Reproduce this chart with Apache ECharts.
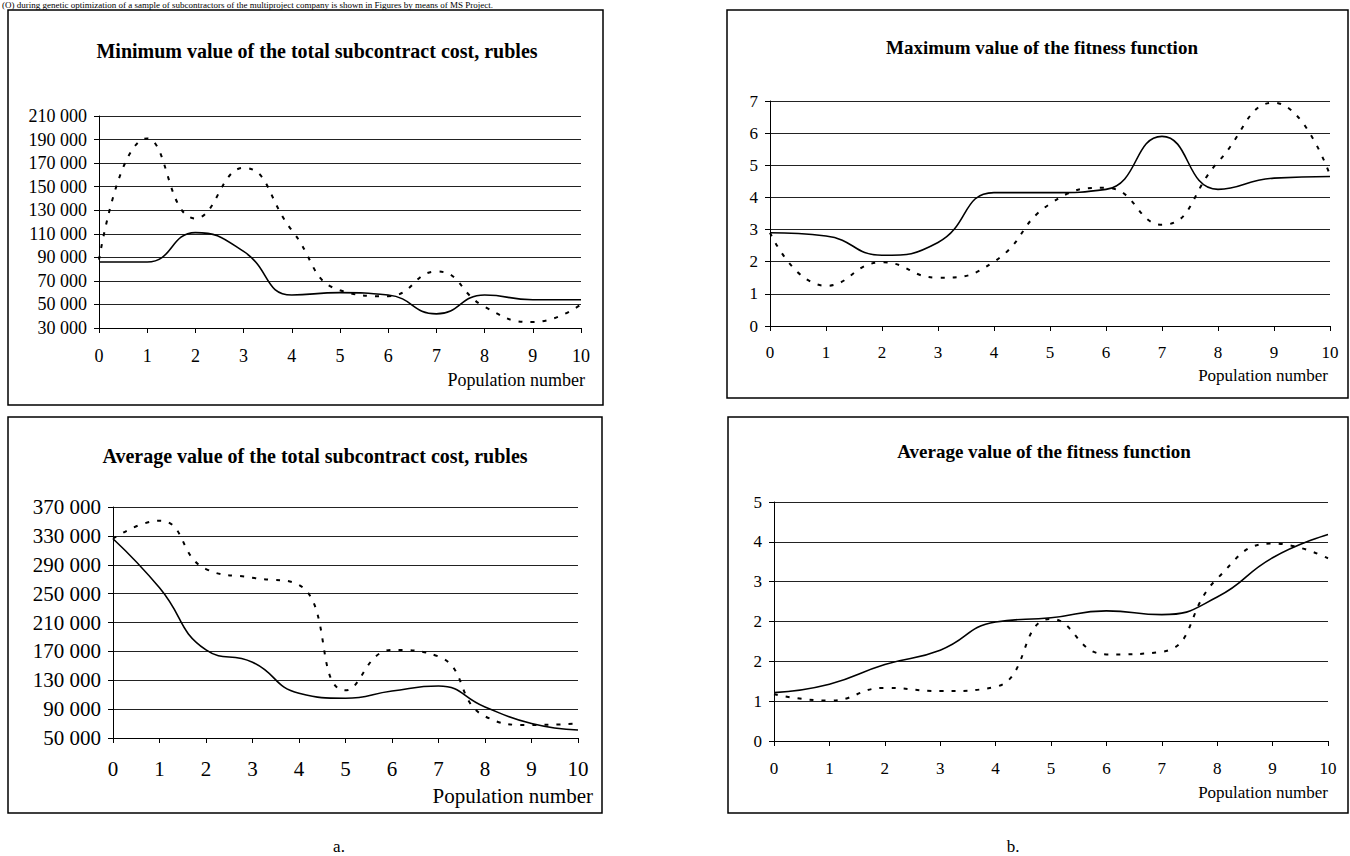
<!DOCTYPE html>
<html>
<head>
<meta charset="utf-8">
<script src="https://cdn.jsdelivr.net/npm/echarts@6/dist/echarts.min.js"></script>
<style>
    html, body { margin: 0; padding: 0; background: #fff; }
    #main { width: 1350px; height: 856px; }
</style>
</head>
<body>
<div id="main"></div>
<script>
    // population numbers (x axis)
    var populations = ['0', '1', '2', '3', '4', '5', '6', '7', '8', '9', '10'];

    // a. top: minimum total subcontract cost
    var minCostSolid = [86000, 86000, 111000, 95000, 58000, 60000, 58000, 42000, 58000, 54000, 54000];
    var minCostDashed = [88000, 191000, 123000, 166000, 113000, 62000, 57000, 78000, 48000, 35000, 50000];

    // a. bottom: average total subcontract cost
    var avgCostSolid = [326000, 258000, 172000, 155000, 112000, 105000, 115000, 122000, 93000, 70000, 61000];
    var avgCostDashed = [326000, 351000, 284000, 272000, 262000, 116000, 172000, 163000, 80000, 68000, 70000];

    // b. top: maximum fitness
    var maxFitSolid = [2.9, 2.8, 2.2, 2.6, 4.15, 4.15, 4.25, 5.9, 4.25, 4.6, 4.65];
    var maxFitDashed = [2.9, 1.25, 1.98, 1.5, 2.0, 3.8, 4.3, 3.15, 5.1, 6.95, 4.7];

    // b. bottom: average fitness
    var avgFitSolid = [0.91, 1.07, 1.44, 1.71, 2.24, 2.32, 2.45, 2.38, 2.71, 3.45, 3.89];
    var avgFitDashed = [0.88, 0.76, 1.0, 0.94, 1.02, 2.3, 1.63, 1.68, 3.06, 3.72, 3.44];

    var FONT = '"Liberation Serif", "Times New Roman", serif';

    function spaced(v) {
        return String(v).replace(/\B(?=(\d{3})+(?!\d))/g, ' ');
    }

    function xAxisOf(idx, size, margin) {
        return {
            type: 'category',
            gridIndex: idx,
            data: populations,
            boundaryGap: false,
            axisLine: { show: true, lineStyle: { color: '#000', width: 1 } },
            axisTick: { show: true, length: 5, lineStyle: { color: '#000' } },
            axisLabel: { color: '#000', fontFamily: FONT, fontSize: size, margin: margin },
            splitLine: { show: false }
        };
    }

    function yAxisOf(idx, min, max, interval, size, fmt) {
        return {
            type: 'value',
            gridIndex: idx,
            min: min,
            max: max,
            interval: interval,
            axisLine: { show: true, lineStyle: { color: '#000', width: 1 } },
            axisTick: { show: true, length: 5, lineStyle: { color: '#000' } },
            axisLabel: { color: '#000', fontFamily: FONT, fontSize: size, margin: 12, formatter: fmt },
            splitLine: { show: true, lineStyle: { color: '#222', width: 1 } }
        };
    }

    function lineOf(idx, data, dashed) {
        return {
            type: 'line',
            xAxisIndex: idx,
            yAxisIndex: idx,
            data: data,
            smooth: 0.5,
            symbol: 'none',
            lineStyle: dashed
                ? { color: '#000', width: 2, type: [4, 8] }
                : { color: '#000', width: 1.6 }
        };
    }

    function box(x, y, w, h) {
        return {
            type: 'rect',
            shape: { x: x, y: y, width: w, height: h },
            style: { fill: 'none', stroke: '#000', lineWidth: 1.5 }
        };
    }

    function label(text, x, y, size, align, valign) {
        return {
            type: 'text',
            style: {
                text: text, x: x, y: y,
                font: size + 'px ' + FONT,
                fill: '#000',
                textAlign: align || 'right',
                textVerticalAlign: valign || 'middle'
            }
        };
    }

    function titleOf(text, x, y, size) {
        return {
            text: text,
            left: x,
            top: y,
            textAlign: 'center',
            textStyle: { fontFamily: FONT, fontWeight: 'bold', fontSize: size, color: '#000' }
        };
    }

    var el = document.getElementById('main');
    var myChart = echarts.init(el, null, { renderer: 'svg' });

    var option = {
        backgroundColor: '#fff',
        animation: false,
        title: [
            titleOf('Minimum value of the total subcontract cost, rubles', 312, 36, 20),
            titleOf('Maximum value of the fitness function', 1037, 33, 19),
            titleOf('Average value of the total subcontract cost, rubles', 310, 441, 20),
            titleOf('Average value of the fitness function', 1039, 437, 19)
        ],
        grid: [
            { left: 99, top: 116, width: 482, height: 212 },
            { left: 770, top: 101, width: 560, height: 225 },
            { left: 113, top: 507, width: 465, height: 231 },
            { left: 774, top: 502, width: 554, height: 239 }
        ],
        xAxis: [
            xAxisOf(0, 18, 19),
            xAxisOf(1, 17, 18),
            xAxisOf(2, 21, 20),
            xAxisOf(3, 17, 19)
        ],
        yAxis: [
            yAxisOf(0, 30000, 210000, 20000, 18, spaced),
            yAxisOf(1, 0, 7, 1, 17, '{value}'),
            yAxisOf(2, 50000, 370000, 40000, 21, spaced),
            yAxisOf(3, 0, 4.5, 0.75, 17, function (v) { return String(Math.round(v)); })
        ],
        series: [
            lineOf(0, minCostDashed, true),
            lineOf(0, minCostSolid, false),
            lineOf(1, maxFitDashed, true),
            lineOf(1, maxFitSolid, false),
            lineOf(2, avgCostDashed, true),
            lineOf(2, avgCostSolid, false),
            lineOf(3, avgFitDashed, true),
            lineOf(3, avgFitSolid, false)
        ],
        graphic: [
            label('(O) during genetic optimization of a sample of subcontractors of the multiproject company is shown in Figures by means of MS Project.', 2, 0, 9, 'left', 'top'),
            box(8, 10, 595, 395),
            box(727, 10, 621, 388),
            box(8, 417, 594, 396),
            box(728, 417, 620, 396),
            label('Population number', 585, 380, 18),
            label('Population number', 1328, 375, 17),
            label('Population number', 593, 796, 21),
            label('Population number', 1328, 792, 17),
            label('a.', 339, 846, 17, 'center'),
            label('b.', 1013, 846, 17, 'center')
        ]
    };
    myChart.setOption(option);
</script>
</body>
</html>
